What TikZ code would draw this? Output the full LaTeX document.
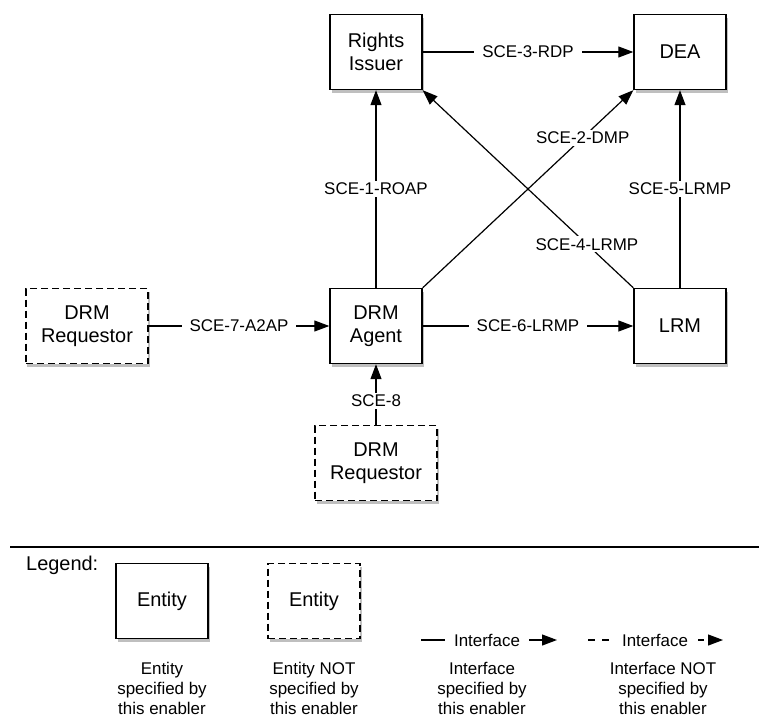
\documentclass[tikz,border=0pt]{standalone}
\usepackage{fontspec}
\setmainfont{Liberation Sans}
\usetikzlibrary{arrows.meta,shadows}

\tikzset{
  entity/.style={draw, line width=1.4bp, fill=white,
    minimum width=92bp, minimum height=75bp, align=center,
    font=\fontsize{20}{23}\selectfont,
    drop shadow={shadow xshift=1.5bp, shadow yshift=-3.5bp,
      fill=black!50, opacity=0.5}},
  extentity/.style={entity, dash pattern=on 7bp off 4bp, minimum width=122bp},
  iface/.style={-{Triangle[length=15bp,width=11bp]}, line width=1.2bp},
  lbl/.style={fill=white, font=\fontsize{17}{20}\selectfont,
    inner xsep=8bp, inner ysep=2bp},
  caption/.style={align=center, font=\fontsize{17}{20}\selectfont}
}

\begin{document}
\begin{tikzpicture}[x=1bp,y=-1bp]
  \useasboundingbox (0,0) rectangle (759,719);

  %% Entities
  \node[entity] (ri) at (376,52) {Rights\\Issuer};
  \node[entity] (dea) at (680,52) {DEA};
  \node[entity] (agent) at (376,326) {DRM\\Agent};
  \node[entity] (lrm) at (680,326) {LRM};
  \node[extentity] (reqw) at (87,326) {DRM\\Requestor};
  \node[extentity] (reqs) at (376,463) {DRM\\Requestor};

  %% Interfaces
  \draw[iface] (ri) -- node[lbl] {SCE-3-RDP} (dea);
  \draw[iface] (agent) -- node[lbl] {SCE-1-ROAP} (ri);
  \draw[iface] (agent.north east) -- node[lbl,pos=0.76] {SCE-2-DMP} (dea.south west);
  \draw[iface] (lrm.north west) -- node[lbl,pos=0.22] {SCE-4-LRMP} (ri.south east);
  \draw[iface] (lrm) -- node[lbl] {SCE-5-LRMP} (dea);
  \draw[iface] (agent) -- node[lbl] {SCE-6-LRMP} (lrm);
  \draw[iface] (reqw) -- node[lbl] {SCE-7-A2AP} (agent);
  \draw[iface] (reqs) -- node[lbl,inner xsep=2bp,pos=0.4] {SCE-8} (agent);

  %% Legend
  \draw[line width=1.2bp] (10,547) coordinate (sepl) -- (759,547) coordinate (sepr);
  \node[anchor=base west, inner sep=0pt, font=\fontsize{20}{23}\selectfont]
    (legend) at (26,570) {Legend:};
  \node[entity] (ent) at (162,601) {Entity};
  \node[extentity, minimum width=92bp] (entx) at (314,601) {Entity};
  \node[caption, anchor=base] (entcap) at (162,714) {Entity\\specified by\\this enabler};
  \node[caption, anchor=base] (entxcap) at (314,714) {Entity NOT\\specified by\\this enabler};

  \node[caption, anchor=base, inner sep=0pt] (ifs) at (487,646) {Interface};
  \draw[line width=1.2bp] (421,640) coordinate (ifsa) -- (445,640) coordinate (ifsb);
  \draw[iface] (529,640) coordinate (ifsc) -- (557,640) coordinate (ifsd);
  \node[caption, anchor=base] (ifscap) at (482,714) {Interface\\specified by\\this enabler};

  \node[caption, anchor=base, inner sep=0pt] (ifx) at (655,646) {Interface};
  \draw[line width=1.2bp, dash pattern=on 7bp off 7bp]
    (588,640) coordinate (ifxa) -- (610,640) coordinate (ifxb);
  \draw[iface, dash pattern=on 6bp off 4bp] (698,640) coordinate (ifxc) -- (723,640) coordinate (ifxd);
  \node[caption, anchor=base] (ifxcap) at (663,714) {Interface NOT\\specified by\\this enabler};
\end{tikzpicture}
\end{document}
